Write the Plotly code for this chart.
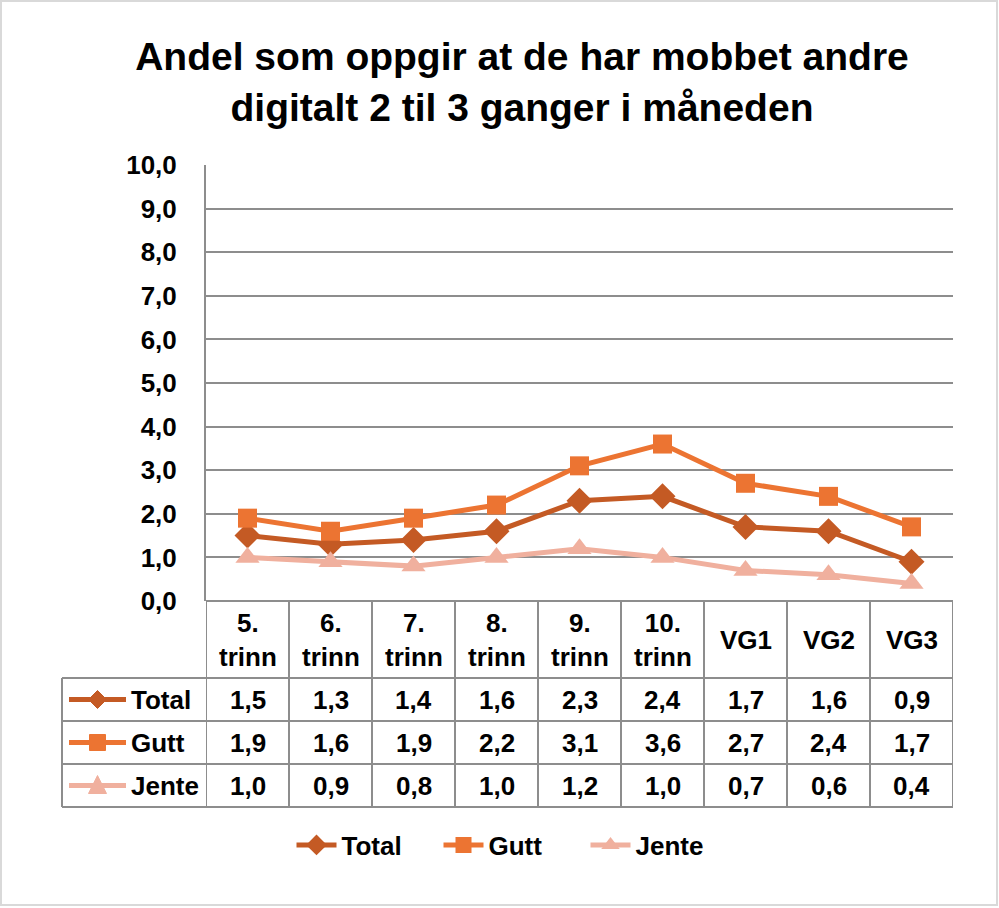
import plotly.graph_objects as go

# ---- data ----
categories = ["5. trinn", "6. trinn", "7. trinn", "8. trinn", "9. trinn",
              "10. trinn", "VG1", "VG2", "VG3"]
total = [1.5, 1.3, 1.4, 1.6, 2.3, 2.4, 1.7, 1.6, 0.9]
gutt = [1.9, 1.6, 1.9, 2.2, 3.1, 3.6, 2.7, 2.4, 1.7]
jente = [1.0, 0.9, 0.8, 1.0, 1.2, 1.0, 0.7, 0.6, 0.4]
series_names = ["Total", "Gutt", "Jente"]
y_ticks = [0, 1, 2, 3, 4, 5, 6, 7, 8, 9, 10]

# ---- style ----
W, H = 999, 908
FONT = "Liberation Sans, Arial, Helvetica, sans-serif"
colors = {"Total": "#C45A24", "Gutt": "#EC7432", "Jente": "#F0B09E"}
symbols = {"Total": "diamond", "Gutt": "square", "Jente": "triangle-up"}
msize = {"Total": 20, "Gutt": 19, "Jente": 21}
GRID = "#8d8d8d"
TXT = dict(size=26, family=FONT, color="black", weight="bold")

def px(p):
    return p / W

def py(p):
    return 1 - p / H

plot_left, plot_right, plot_top, plot_bottom = 206, 953, 165, 601
row_edges = [601, 678, 721, 764, 807]
table_left = 62

fig = go.Figure()
data = {"Total": total, "Gutt": gutt, "Jente": jente}
for name in series_names:
    fig.add_trace(go.Scatter(
        x=categories, y=data[name], name=name, mode="lines+markers",
        line=dict(color=colors[name], width=5),
        marker=dict(symbol=symbols[name], size=msize[name], color=colors[name]),
    ))

shapes = []
annotations = []
# table horizontal lines
shapes.append(dict(type="line", xref="paper", yref="paper",
                   x0=px(plot_left), x1=px(plot_right), y0=py(row_edges[0]), y1=py(row_edges[0]),
                   line=dict(color=GRID, width=2)))
for e in row_edges[1:]:
    shapes.append(dict(type="line", xref="paper", yref="paper",
                       x0=px(table_left), x1=px(plot_right), y0=py(e), y1=py(e),
                       line=dict(color=GRID, width=2)))
# table vertical lines at category boundaries
for i in range(len(categories) + 1):
    shapes.append(dict(type="line", xref="x", yref="paper",
                       x0=i - 0.5, x1=i - 0.5, y0=py(row_edges[0]), y1=py(row_edges[-1]),
                       line=dict(color=GRID, width=2)))
shapes.append(dict(type="line", xref="paper", yref="paper",
                   x0=px(table_left), x1=px(table_left), y0=py(row_edges[1]), y1=py(row_edges[-1]),
                   line=dict(color=GRID, width=2)))
# outer border
shapes.append(dict(type="rect", xref="paper", yref="paper", x0=px(1), x1=px(997), y0=py(1), y1=py(905),
                   line=dict(color="#d9d9d9", width=2)))

# header labels
for c in categories:
    annotations.append(dict(x=c, xref="x", y=py((row_edges[0] + row_edges[1]) / 2), yref="paper",
                            xanchor="center", yanchor="middle",
                            text=c.replace(" ", "<br>"), showarrow=False, font=TXT))
# table values and row keys
for r, name in enumerate(series_names):
    yc = (row_edges[r + 1] + row_edges[r + 2]) / 2
    for c, v in zip(categories, data[name]):
        annotations.append(dict(x=c, xref="x", y=py(yc), yref="paper",
                                xanchor="center", yanchor="middle",
                                text=f"{v:.1f}".replace(".", ","), showarrow=False, font=TXT))
    annotations.append(dict(x=px(129), xref="paper", y=py(yc), yref="paper",
                            xanchor="left", yanchor="middle",
                            text=name, showarrow=False, font=TXT))
    col = colors[name]
    shapes.append(dict(type="line", xref="paper", yref="paper", x0=px(69), x1=px(126),
                       y0=py(yc), y1=py(yc), line=dict(color=col, width=5)))
    mx = 97.5
    if name == "Total":
        path = f"M {px(mx)},{py(yc-9)} L {px(mx+9)},{py(yc)} L {px(mx)},{py(yc+9)} L {px(mx-9)},{py(yc)} Z"
    elif name == "Gutt":
        path = f"M {px(mx-8)},{py(yc-8)} L {px(mx+8)},{py(yc-8)} L {px(mx+8)},{py(yc+8)} L {px(mx-8)},{py(yc+8)} Z"
    else:
        path = f"M {px(mx)},{py(yc-10)} L {px(mx+9)},{py(yc+8)} L {px(mx-9)},{py(yc+8)} Z"
    shapes.append(dict(type="path", xref="paper", yref="paper", path=path,
                       fillcolor=col, line=dict(color=col, width=1)))

fig.update_layout(
    width=W, height=H,
    margin=dict(l=0, r=0, t=0, b=0, autoexpand=False),
    paper_bgcolor="white", plot_bgcolor="white",
    separators=",.",
    font=dict(family=FONT, size=26, color="black", weight="bold"),
    title=dict(text="Andel som oppgir at de har mobbet andre<br>digitalt 2 til 3 ganger i måneden",
               x=522 / W, xanchor="center", y=py(70), yanchor="top",
               font=dict(size=39, family=FONT, color="black", weight="bold")),
    xaxis=dict(domain=[px(plot_left), px(plot_right)], type="category", range=[-0.5, 8.5],
               showticklabels=False, showgrid=False, showline=False, zeroline=False),
    yaxis=dict(domain=[py(plot_bottom), py(plot_top)], range=[0, 10], tickvals=y_ticks,
               tickformat=".1f", showgrid=True, gridcolor=GRID, gridwidth=2,
               showline=True, linecolor=GRID, linewidth=2, zeroline=False,
               ticks="", ticklabelstandoff=22, tickfont=TXT),
    legend=dict(orientation="h", x=512 / W, xanchor="center", y=py(845), yanchor="middle",
                font=TXT, itemwidth=40, entrywidth=92, entrywidthmode="pixels",
                bgcolor="rgba(0,0,0,0)"),
    shapes=shapes,
    annotations=annotations,
)

fig.write_html("out.html", config={"displayModeBar": False},
               post_script="document.body.style.margin='0px';")
